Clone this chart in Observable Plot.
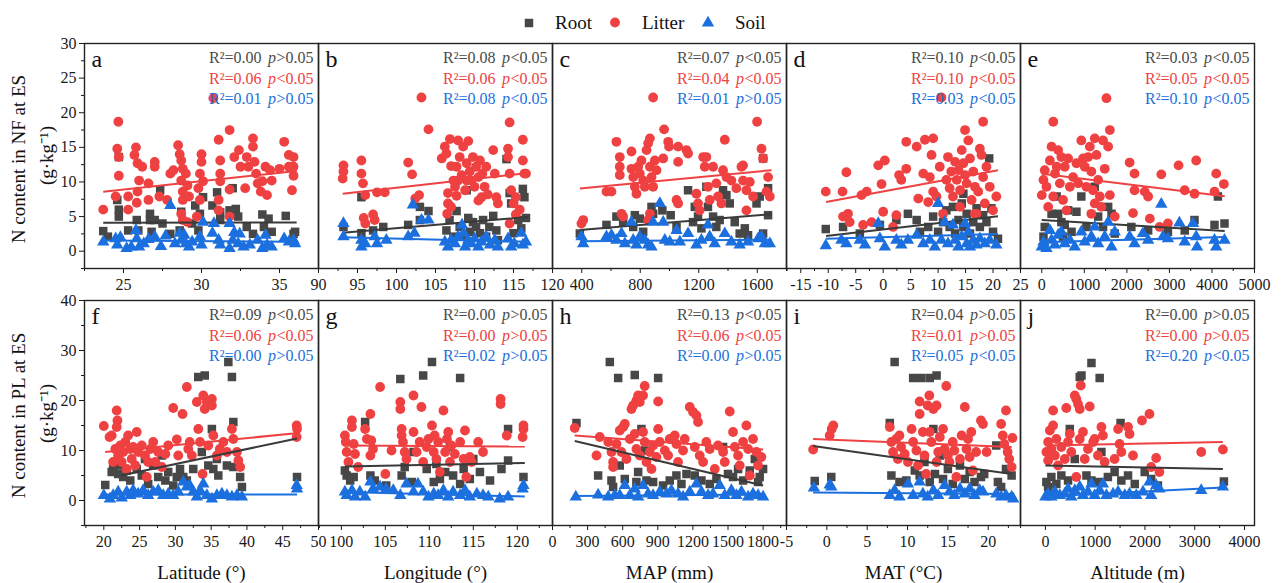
<!DOCTYPE html>
<html><head><meta charset="utf-8">
<script src="https://cdn.jsdelivr.net/npm/d3@7"></script>
<script src="https://cdn.jsdelivr.net/npm/@observablehq/plot@0.6"></script>
<style>
body{margin:0;background:#fff;}
#wrap{position:relative;width:1282px;height:583px;overflow:hidden;font-family:"Liberation Serif","Times New Roman",serif;background:#fff;}
#wrap svg, #wrap svg text{font-family:"Liberation Serif","Times New Roman",serif !important;}
.panel{position:absolute;}
.legtxt{position:absolute;font-size:19px;line-height:19px;color:#111;white-space:nowrap;}
.legsym{position:absolute;overflow:visible;}
</style></head><body><div id="wrap"></div>
<script>
// ---------- series names & colours ----------
const seriesNames = ["Root", "Litter", "Soil"];
const seriesColors = ["#474747", "#EF4141", "#1B6FDE"];

// ---------- panel labels & axes ----------
const panelLetters = ["a","b","c","d","e","f","g","h","i","j"];
const xDomains = [[22.5,37.5],[90,120],[200,1800],[-17.6,25],[-500,5000],[17.3,50],[97.4,124],[0,2000],[-5,24],[-500,4200]];
const xTickLabels = [[25,30,35],[90,95,100,105,110,115,120],[400,800,1200,1600],[-15,-10,-5,0,5,10,15,20,25],[0,1000,2000,3000,4000,5000],[20,25,30,35,40,45,50],[100,105,110,115,120],[0,300,600,900,1200,1500,1800],[-5,0,5,10,15,20],[0,1000,2000,3000,4000]];
const xMinorStep = [2.5,2.5,200,2.5,500,2.5,2.5,150,2.5,500];
const xTitles = ["","","","","","Latitude (°)","Longitude (°)","MAP (mm)","MAT (°C)","Altitude (m)"];
const yDomains = [[-2.5,30],[-5,40]];
const yTickLabels = [[0,5,10,15,20,25,30],[0,10,20,30,40]];
const yMinorStep = [2.5,5];
const yTitles = ["N content in NF at ES","N content in PL at ES"];
const yUnit = "(g·kg⁻¹)";

// ---------- statistics text ----------
const r2Root   = ["0.00","0.08","0.07","0.10","0.03","0.09","0.00","0.13","0.04","0.00"];
const pRoot    = [">0.05","<0.05","<0.05","<0.05","<0.05","<0.05",">0.05","<0.05",">0.05",">0.05"];
const r2Litter = ["0.06","0.06","0.04","0.10","0.05","0.06","0.00","0.06","0.01","0.00"];
const pLitter  = ["<0.05","<0.05","<0.05","<0.05","<0.05","<0.05",">0.05","<0.05",">0.05",">0.05"];
const r2Soil   = ["0.01","0.08","0.01","0.03","0.10","0.00","0.02","0.00","0.05","0.20"];
const pSoil    = [">0.05","<0.05",">0.05","<0.05","<0.05",">0.05",">0.05",">0.05","<0.05","<0.05"];

// ---------- fitted lines [x0, y0, x1, y1] ----------
const fitRoot   = [[23.7,4.1,36.1,4.15],[93.1,2.65,116.9,4.95],[387,3.05,1698,5.35],[-10.4,2.2,20.9,5.05],[0,4.5,4300,2.9],[22.4,5.0,47.0,12.4],[100.4,6.8,120.85,7.5],[190,11.9,1800,3.0],[-1.7,10.9,22.9,5.3],[0,7.0,3565,6.3]];
const fitLitter = [[23.7,8.6,36.1,11.6],[93.1,8.3,116.9,11.3],[387,9.05,1698,11.7],[-10.4,7.1,20.9,11.7],[0,11.2,4300,7.95],[20.2,9.7,47.2,13.5],[100.4,11.0,120.85,10.8],[190,13.0,1800,10.2],[-1.7,12.3,22.9,10.7],[0,11.0,3565,11.7]];
const fitSoil   = [[23.7,1.55,36.1,1.35],[93.1,2.0,116.9,1.35],[387,1.45,1698,1.65],[-10.4,1.8,20.9,2.5],[0,1.3,4300,2.05],[20.0,1.2,47.0,1.2],[100.4,1.7,120.85,0.8],[190,0.9,1800,1.2],[-1.7,1.6,22.9,1.3],[0,0.8,3565,2.6]];

// ---------- points [x, N] ----------
// a: NF vs latitude
const aRoot = [[23.7,2.9],[24.0,2.1],[24.6,7.4],[24.7,6.0],[24.7,5.0],[24.7,13.6],[25.3,3.0],[25.85,4.5],[25.95,3.0],[26.7,5.4],[26.7,4.5],[27.0,4.5],[26.8,2.8],[27.35,8.8],[27.5,4.0],[28.0,2.5],[28.6,3.0],[28.7,5.7],[29.4,4.0],[29.6,6.6],[29.9,5.4],[29.8,3.0],[30.1,7.8],[30.7,6.6],[31.0,8.5],[31.2,4.5],[31.2,5.6],[31.8,5.9],[32.0,9.1],[32.2,6.1],[32.35,5.0],[32.9,3.5],[33.3,2.5],[33.9,5.3],[34.0,3.5],[34.3,4.7],[34.5,2.8],[35.4,5.1],[35.9,2.5],[36.0,2.8]];
const aLitter = [[23.7,6.0],[24.67,18.7],[24.6,14.8],[24.7,13.6],[24.7,10.9],[24.5,7.9],[25.3,7.9],[25.3,6.0],[25.8,15.0],[25.7,13.9],[25.9,12.7],[26.0,10.2],[25.9,8.6],[25.85,7.0],[26.2,12.2],[26.6,9.8],[26.6,7.4],[27.0,12.9],[27.0,12.2],[27.3,7.9],[27.8,7.4],[28.0,11.2],[28.2,11.7],[28.5,15.3],[28.6,14.0],[28.7,13.1],[28.8,11.9],[28.7,10.2],[28.8,8.6],[28.8,7.4],[28.7,5.4],[28.8,4.5],[29.0,11.2],[29.1,9.5],[29.2,7.9],[29.1,4.2],[29.8,9.1],[29.9,11.2],[30.0,12.9],[30.0,14.0],[29.9,7.4],[29.7,5.0],[30.1,10.1],[30.76,22.1],[31.1,16.1],[31.2,13.1],[31.2,11.2],[31.1,7.4],[31.1,5.9],[31.2,10.1],[31.8,17.5],[31.8,8.9],[31.8,5.0],[32.1,13.6],[32.4,14.6],[32.5,12.2],[32.9,13.6],[33.0,12.2],[33.3,16.3],[33.3,15.1],[33.4,12.9],[33.5,11.2],[33.6,9.8],[33.8,8.6],[33.9,10.1],[34.1,12.2],[34.2,8.1],[34.4,11.7],[34.5,10.2],[35.3,15.8],[35.6,13.9],[35.6,12.2],[35.9,13.6],[35.9,12.2],[35.9,10.9],[35.8,8.8],[35.0,11.9],[32.8,9.1]];
const aSoil = [[23.7,1.35],[24.5,1.8],[24.6,0.9],[24.8,2.0],[25.2,0.4],[25.5,0.6],[25.8,3.0],[25.85,1.8],[26.0,0.6],[26.3,1.1],[26.6,1.7],[27.0,2.1],[27.4,0.7],[27.7,2.2],[28.0,6.6],[28.3,1.1],[28.6,2.6],[28.7,1.6],[28.9,2.3],[29.0,1.1],[29.2,0.6],[29.4,1.35],[29.9,2.1],[30.0,0.9],[30.1,4.2],[30.7,2.6],[30.8,4.0],[31.1,1.6],[31.2,0.9],[31.8,4.0],[31.8,0.4],[32.0,1.6],[32.1,2.7],[32.35,1.1],[32.45,2.5],[32.7,0.6],[33.1,0.9],[33.6,1.6],[33.9,0.4],[34.1,2.3],[34.2,0.9],[34.5,0.6],[35.3,1.8],[35.6,1.35],[35.9,1.6],[36.0,1.1]];
// b: NF vs longitude
const bRoot = [[93.2,3.5],[95.5,7.8],[95.5,2.6],[97.0,3.0],[98.3,3.5],[101.5,3.8],[103.0,6.4],[104.1,5.8],[103.0,4.5],[106.4,3.0],[106.8,4.5],[107.3,2.1],[107.7,5.8],[108.1,3.5],[108.6,2.1],[109.0,8.8],[109.2,4.8],[109.4,2.8],[109.8,4.2],[110.2,3.5],[110.7,2.6],[111.1,4.5],[111.5,2.1],[111.9,3.5],[112.4,5.1],[112.8,3.0],[113.0,1.6],[114.1,13.3],[114.5,8.4],[114.7,6.9],[115.0,2.6],[115.6,4.5],[116.2,9.0],[116.4,7.8],[116.6,4.8],[116.0,3.3]];
const bLitter = [[93.2,12.4],[93.2,11.5],[93.1,10.5],[95.5,13.1],[95.5,11.2],[95.7,9.8],[96.0,8.1],[95.8,4.8],[96.0,4.0],[97.0,5.3],[97.2,4.5],[97.5,8.5],[98.5,8.5],[101.5,12.8],[102.0,11.1],[102.9,8.1],[102.4,7.6],[103.2,22.2],[104.1,17.6],[105.8,13.4],[106.2,15.1],[106.4,14.1],[106.85,16.2],[107.0,12.3],[106.6,8.4],[106.6,6.9],[106.5,5.4],[107.0,6.4],[107.3,10.2],[107.5,9.3],[107.7,12.2],[107.9,16.0],[108.1,13.6],[108.35,11.0],[108.55,15.1],[108.8,8.8],[109.0,12.7],[109.2,15.9],[109.4,11.5],[109.6,10.2],[109.8,13.6],[110.0,9.3],[110.2,12.2],[110.5,10.7],[110.7,13.1],[110.9,7.8],[111.0,11.2],[111.3,9.3],[111.5,12.2],[112.4,14.6],[112.6,11.2],[112.8,7.8],[113.0,6.9],[111.7,8.2],[110.5,7.3],[109.0,10.2],[107.7,8.0],[107.9,10.2],[114.3,14.8],[114.3,13.6],[114.5,18.6],[114.5,11.2],[114.7,8.8],[115.0,6.9],[114.5,4.0],[115.3,7.8],[116.2,16.1],[116.2,13.1],[116.4,11.2],[116.6,11.2],[115.8,6.0],[115.3,5.3]];
const bSoil = [[93.2,4.0],[93.2,2.1],[95.5,1.6],[95.5,0.6],[96.0,1.1],[97.2,2.1],[97.5,1.1],[98.7,1.6],[101.5,2.1],[102.1,6.7],[102.3,2.6],[103.2,4.5],[104.1,4.5],[106.2,1.35],[106.6,0.6],[107.0,1.6],[107.5,1.1],[107.9,2.1],[108.4,3.8],[108.6,2.6],[108.8,0.6],[109.2,1.6],[109.6,1.1],[110.0,1.8],[110.5,0.6],[110.9,1.35],[111.5,2.1],[112.0,0.9],[112.6,1.6],[113.0,0.6],[114.3,1.8],[114.7,0.6],[115.1,1.1],[116.0,2.6],[116.2,0.9],[116.6,1.35]];
// c: NF vs MAP
const cRoot = [[387,2.55],[569,3.8],[637,5.0],[683,4.2],[752,3.5],[763,5.2],[797,4.7],[820,2.8],[877,6.4],[888,5.4],[951,5.9],[1008,5.2],[1048,3.5],[1127,8.8],[1161,4.2],[1173,6.4],[1195,5.0],[1218,3.3],[1252,9.3],[1263,6.4],[1298,5.0],[1320,3.5],[1343,4.5],[1366,8.8],[1389,8.1],[1412,6.9],[1446,4.2],[1480,2.55],[1515,3.3],[1537,2.3],[1595,6.9],[1617,7.9],[1640,13.4],[1674,9.1],[1674,5.2],[1640,2.55]];
const cLitter = [[398,4.0],[410,4.5],[569,8.6],[603,8.6],[637,15.8],[660,13.6],[660,12.2],[660,11.0],[672,5.4],[683,5.0],[740,14.4],[740,11.9],[752,10.7],[763,9.3],[774,8.3],[786,12.2],[797,11.2],[808,13.1],[820,10.2],[831,9.3],[843,14.6],[854,15.6],[866,16.3],[866,12.2],[877,10.7],[888,22.2],[888,9.3],[900,13.1],[911,11.7],[866,5.4],[854,4.5],[957,13.4],[963,17.6],[991,15.8],[997,15.1],[1059,15.1],[1059,12.9],[1048,7.4],[1059,6.9],[1116,14.6],[1127,14.1],[1184,8.3],[1195,6.9],[1206,5.9],[1230,13.6],[1241,12.2],[1252,13.6],[1263,9.3],[1275,7.4],[1298,12.2],[1320,9.8],[1332,7.9],[1355,6.9],[1366,11.7],[1378,16.1],[1389,10.7],[1423,10.2],[1457,9.1],[1492,12.2],[1503,12.4],[1503,10.2],[1526,8.8],[1526,5.9],[1549,10.0],[1572,7.9],[1599,18.7],[1629,14.8],[1640,13.4],[1674,10.7],[1663,8.6],[1686,7.9]];
const cSoil = [[398,2.1],[410,1.1],[569,2.1],[603,2.3],[637,1.6],[672,2.55],[695,1.1],[740,4.2],[752,1.6],[774,0.9],[797,2.1],[831,1.6],[854,0.9],[877,0.6],[888,4.2],[934,6.9],[957,4.2],[968,1.6],[1002,1.35],[1048,3.0],[1071,1.35],[1127,2.55],[1184,0.9],[1218,1.6],[1263,3.8],[1275,2.1],[1309,1.1],[1378,2.55],[1423,1.35],[1480,0.9],[1537,1.35],[1606,1.8],[1629,2.1],[1652,1.1],[1686,1.1]];
// d: NF vs MAT
const dRoot = [[-10.45,3.2],[-7.3,3.5],[-4.25,2.55],[-0.6,3.8],[2.4,4.5],[4.5,5.4],[6.1,4.5],[6.7,2.8],[8.2,3.5],[9.1,5.0],[10.0,2.8],[10.9,4.2],[11.5,5.9],[12.1,3.5],[12.7,6.4],[13.1,2.55],[13.7,4.5],[14.3,6.9],[14.6,3.5],[15.2,5.4],[15.8,2.55],[16.4,4.2],[17.0,6.2],[17.6,3.5],[18.2,5.2],[18.8,4.2],[19.3,13.4],[19.7,6.2],[20.0,2.8],[20.9,1.8],[14.6,8.3]];
const dLitter = [[-10.45,8.6],[-7.4,8.6],[-6.7,11.4],[-7.3,5.0],[-6.4,5.4],[-6.1,4.2],[-3.95,8.1],[-3.0,8.6],[-3.65,3.8],[-2.1,4.2],[-0.9,12.4],[0.3,13.1],[-0.3,9.7],[0.0,5.7],[1.8,3.5],[2.4,5.2],[2.9,11.0],[3.3,10.3],[4.2,11.9],[4.2,15.8],[6.1,15.1],[6.4,7.6],[7.3,11.2],[7.6,16.1],[8.2,7.1],[9.1,16.3],[8.8,13.9],[8.5,10.7],[9.1,8.6],[9.7,7.9],[10.3,12.2],[10.9,5.4],[10.6,22.2],[11.5,10.3],[11.8,13.6],[12.1,9.1],[12.4,11.5],[12.7,7.9],[13.1,12.9],[13.4,10.3],[13.7,11.7],[14.0,8.8],[14.3,14.6],[14.6,12.7],[14.9,17.5],[14.9,11.0],[15.2,9.8],[15.5,16.0],[15.8,13.4],[16.1,7.4],[16.4,11.5],[16.7,9.3],[17.0,5.4],[17.3,8.6],[17.6,14.8],[17.9,13.9],[18.2,18.7],[18.2,10.7],[18.5,6.9],[18.8,12.2],[19.4,9.3],[20.0,5.9],[20.6,7.9],[16.7,5.4],[14.0,6.4]];
const dSoil = [[-10.45,0.8],[-7.6,1.6],[-6.7,1.1],[-4.25,1.6],[-3.3,0.9],[-0.9,4.0],[-0.6,1.8],[0.3,0.6],[2.4,1.6],[3.3,0.9],[4.5,1.6],[6.1,2.3],[7.3,1.1],[8.5,1.6],[9.4,0.6],[10.0,6.9],[10.6,1.6],[11.2,4.2],[11.8,1.1],[12.7,3.8],[13.1,1.6],[13.7,0.6],[14.3,2.1],[14.9,4.0],[15.2,1.1],[15.5,2.8],[15.8,0.6],[16.4,1.6],[17.0,0.9],[17.6,1.8],[18.5,1.1],[19.4,1.6],[20.6,0.9]];
// e: NF vs altitude
const eRoot = [[40,2.1],[230,5.4],[350,7.9],[385,5.4],[460,4.2],[540,3.8],[620,5.9],[700,2.8],[815,5.7],[930,7.9],[1050,3.5],[1245,9.3],[1325,5.0],[1440,3.5],[1560,6.4],[1640,5.4],[1715,2.55],[2105,3.5],[2500,3.0],[2965,2.8],[3360,3.0],[3590,4.5],[4060,3.8],[4140,7.9],[4295,4.0],[70,3.5],[500,2.1]];
const eLitter = [[0,8.1],[40,10.3],[70,11.7],[110,9.3],[150,6.4],[190,13.1],[230,15.1],[270,18.7],[270,7.9],[310,11.2],[350,12.2],[385,14.6],[425,9.8],[460,13.6],[500,7.4],[540,12.2],[580,5.9],[620,13.4],[660,9.3],[735,10.7],[815,12.7],[855,9.8],[930,16.0],[970,13.4],[1010,12.2],[1050,9.3],[1090,13.6],[1130,15.1],[1165,11.5],[1205,8.8],[1245,16.3],[1245,6.9],[1285,13.9],[1165,5.4],[1325,10.3],[1365,7.9],[1400,6.4],[1440,16.0],[1480,11.9],[1520,22.1],[1560,15.1],[1600,17.5],[1600,8.1],[1715,5.0],[2065,12.8],[2180,11.2],[2180,8.8],[2145,5.5],[2420,8.6],[2500,7.9],[2540,4.7],[2810,11.1],[2770,3.5],[2965,4.0],[3215,12.4],[3360,8.8],[3590,8.3],[3630,13.1],[4060,8.6],[4100,11.2],[4280,9.7]];
const eSoil = [[0,0.6],[40,1.35],[110,0.4],[190,3.0],[230,1.6],[310,0.9],[385,2.3],[460,2.8],[540,1.1],[660,1.6],[775,0.6],[930,2.8],[1010,1.35],[1165,2.1],[1245,3.5],[1325,1.1],[1480,2.1],[1560,4.2],[1640,0.6],[1715,2.8],[2065,2.1],[2180,1.1],[2375,2.55],[2500,1.6],[2810,6.8],[2850,2.1],[2965,1.8],[3235,4.1],[3360,1.35],[3555,4.0],[3630,2.1],[3650,0.6],[4060,1.6],[4100,0.6],[4295,1.6]];
// f: PL vs latitude
const fRoot = [[20.2,3.1],[21.1,5.7],[21.3,6.3],[22.0,5.3],[22.3,7.0],[22.7,4.7],[23.2,6.0],[23.7,4.0],[24.6,6.3],[25.3,5.0],[25.75,8.3],[26.2,3.3],[26.9,7.0],[27.6,4.7],[28.1,9.0],[28.6,4.0],[29.0,5.7],[29.7,3.0],[30.2,4.7],[30.65,6.3],[31.1,4.7],[31.6,4.0],[32.5,6.3],[33.2,24.7],[33.7,9.7],[34.1,25.0],[34.6,7.0],[35.1,14.3],[35.3,6.3],[35.8,8.3],[36.0,5.0],[37.2,7.0],[37.4,27.7],[37.9,24.7],[38.1,15.7],[38.1,6.7],[39.05,4.7],[39.3,2.7],[47.0,4.7]];
const fLitter = [[20.0,14.9],[20.8,12.7],[21.1,13.0],[21.8,18.0],[21.9,16.0],[21.8,14.7],[21.6,10.3],[21.3,7.7],[22.0,9.0],[22.3,11.0],[22.5,7.7],[22.7,9.7],[23.0,11.7],[23.2,6.3],[23.4,13.0],[23.7,10.3],[23.9,8.3],[24.1,10.7],[24.6,13.7],[24.4,7.0],[24.8,9.7],[25.3,11.0],[25.75,9.0],[26.0,4.7],[26.2,7.7],[26.5,10.3],[26.9,11.7],[27.2,7.7],[27.6,9.7],[28.1,6.7],[28.6,9.3],[29.0,11.0],[29.7,18.5],[30.2,12.2],[30.4,9.0],[31.0,17.3],[31.6,22.7],[31.8,10.3],[32.0,11.7],[32.3,9.0],[33.0,19.7],[33.2,14.3],[33.45,11.7],[33.8,5.3],[33.9,21.0],[34.1,18.3],[34.4,19.7],[34.6,11.0],[35.1,20.3],[35.1,19.0],[35.3,13.0],[35.8,9.0],[36.2,10.3],[36.7,11.7],[37.2,9.7],[37.9,14.3],[38.1,12.3],[38.6,9.7],[38.8,8.0],[39.05,6.7],[46.95,15.0],[47.0,14.3],[46.95,12.7]];
const fSoil = [[20.0,1.0],[20.85,0.3],[21.3,1.0],[22.0,1.7],[22.5,0.5],[23.2,1.7],[23.7,1.0],[24.1,2.0],[24.8,1.3],[25.5,2.0],[26.2,1.0],[26.9,1.7],[27.6,2.0],[28.3,1.0],[29.0,1.3],[29.7,1.0],[30.4,1.7],[31.1,3.7],[31.6,2.7],[32.0,3.0],[32.5,1.7],[33.0,0.7],[33.45,2.0],[33.9,3.3],[34.4,1.0],[35.1,0.3],[35.8,1.0],[36.5,1.3],[37.2,1.0],[37.9,0.7],[38.6,1.0],[39.3,0.7],[46.95,3.0],[47.0,2.3]];
// g: PL vs longitude
const gRoot = [[100.4,6.0],[100.6,5.0],[101.0,4.0],[101.4,4.7],[102.7,15.7],[103.3,5.0],[103.8,4.0],[105.1,3.0],[106.7,24.3],[106.85,5.0],[107.2,6.7],[108.0,3.7],[108.2,9.7],[109.3,25.0],[109.7,6.3],[110.3,27.7],[110.5,3.7],[110.8,7.3],[111.2,4.3],[111.8,5.7],[112.35,10.7],[112.7,5.0],[113.5,24.5],[113.5,3.3],[113.9,6.3],[114.6,4.3],[115.0,8.3],[115.75,5.7],[116.9,4.0],[118.2,6.3],[118.95,14.3],[118.95,8.0],[120.7,4.7]];
const gLitter = [[100.4,13.0],[100.5,11.7],[100.6,9.7],[100.8,7.7],[101.2,16.0],[101.2,14.7],[101.4,11.3],[101.55,9.3],[101.9,6.7],[102.7,14.3],[102.9,12.3],[103.3,17.3],[103.4,12.0],[103.3,9.0],[103.6,10.3],[104.4,22.7],[105.0,5.3],[105.7,10.0],[106.7,19.7],[106.7,18.3],[106.85,14.3],[106.85,13.0],[107.0,11.7],[107.2,9.7],[107.4,8.3],[108.2,13.7],[108.2,21.0],[108.55,9.7],[108.9,11.7],[109.1,18.7],[109.3,7.7],[109.7,10.7],[109.9,12.3],[110.3,15.0],[110.5,9.7],[110.6,13.0],[110.8,8.3],[111.0,11.7],[111.2,5.7],[111.6,18.0],[111.8,9.7],[112.0,12.3],[112.15,13.7],[112.35,7.7],[112.5,11.0],[112.9,9.3],[113.5,11.7],[113.9,8.3],[114.05,14.0],[114.2,4.7],[114.6,8.7],[114.8,7.7],[115.55,11.7],[116.1,9.7],[118.1,20.3],[118.1,19.3],[118.8,13.0],[120.7,15.0],[120.7,14.3],[120.6,12.7]];
const gSoil = [[100.4,1.7],[100.6,1.0],[101.2,2.0],[101.55,0.7],[102.1,1.7],[102.7,0.7],[103.3,3.7],[103.6,2.3],[104.4,2.7],[105.1,2.3],[105.9,2.0],[106.7,1.0],[107.4,3.3],[108.2,1.7],[108.7,3.3],[109.3,1.7],[109.9,0.7],[110.5,1.3],[111.0,1.0],[111.6,2.0],[112.15,0.7],[112.7,1.7],[113.5,1.0],[114.05,2.0],[114.6,0.7],[115.4,1.3],[116.1,1.0],[116.7,0.7],[118.0,0.3],[118.95,0.7],[120.7,3.0],[120.6,2.3]];
// h: PL vs MAP
const hRoot = [[205,15.5],[390,5.0],[490,27.7],[504,4.0],[518,2.7],[561,24.5],[575,7.0],[618,4.3],[703,25.1],[717,3.7],[732,5.7],[760,14.3],[788,10.0],[803,4.0],[860,3.7],[903,24.5],[945,3.0],[1002,4.0],[1059,5.0],[1102,3.3],[1145,5.3],[1216,5.0],[1273,4.0],[1344,3.3],[1401,4.3],[1458,10.7],[1500,5.3],[1543,4.7],[1586,6.3],[1629,4.0],[1686,6.0],[1729,8.3],[1771,4.7],[1800,6.3],[1757,3.7]];
const hLitter = [[190,14.5],[376,9.0],[404,12.7],[476,11.7],[504,9.7],[518,7.7],[518,6.7],[547,11.3],[575,14.0],[589,9.7],[604,14.7],[618,15.3],[632,8.3],[661,12.3],[675,18.3],[689,19.0],[717,20.0],[732,21.0],[746,19.7],[788,22.9],[774,21.0],[703,13.3],[717,10.3],[746,9.0],[774,13.7],[788,11.7],[803,7.7],[831,9.7],[846,6.3],[860,11.0],[888,8.7],[903,14.3],[903,19.8],[917,11.7],[960,10.0],[988,9.0],[1002,12.3],[1045,13.0],[1059,11.3],[1073,7.7],[1116,10.0],[1130,12.3],[1173,18.7],[1201,17.7],[1230,17.0],[1244,15.7],[1216,10.7],[1258,9.0],[1287,7.7],[1315,11.7],[1344,10.3],[1387,6.3],[1415,11.0],[1458,9.7],[1472,7.7],[1515,17.8],[1543,13.7],[1558,10.7],[1586,9.0],[1600,7.0],[1629,11.7],[1657,15.0],[1672,10.3],[1686,5.0],[1714,12.3],[1743,9.7],[1757,7.0],[1785,8.7]];
const hSoil = [[199,0.7],[390,1.1],[476,0.7],[532,1.0],[575,1.0],[618,3.0],[661,1.0],[703,2.3],[732,0.7],[774,3.0],[817,1.3],[860,1.0],[917,1.7],[974,1.3],[1016,2.0],[1073,1.3],[1116,0.7],[1173,1.7],[1230,3.3],[1273,1.7],[1330,1.0],[1372,1.3],[1429,3.0],[1472,1.0],[1529,2.0],[1572,1.0],[1615,1.7],[1672,0.7],[1714,1.3],[1757,1.0],[1800,0.7]];
// i: PL vs MAT
const iRoot = [[-1.5,3.9],[0.55,4.7],[7.8,15.5],[8.0,5.0],[8.4,27.7],[9.0,3.7],[9.85,4.0],[10.7,24.5],[11.7,24.5],[12.75,24.5],[13.6,25.0],[10.9,6.0],[11.5,5.0],[12.1,7.7],[12.75,3.7],[13.2,14.3],[13.4,5.3],[14.0,9.0],[14.4,4.3],[15.0,6.3],[15.6,3.3],[16.5,7.0],[17.1,4.3],[17.7,5.7],[18.3,3.7],[19.1,4.7],[19.5,5.3],[21.0,11.0],[21.2,3.7],[21.6,2.7],[22.2,6.3],[22.9,5.0]];
const iLitter = [[-1.7,10.2],[0.35,13.0],[0.6,14.3],[0.8,15.0],[7.8,14.7],[8.0,11.7],[8.2,9.7],[8.6,12.3],[8.8,8.3],[9.0,13.0],[9.2,10.7],[9.65,9.3],[10.05,7.7],[10.5,14.3],[10.7,11.7],[11.1,10.0],[11.3,7.0],[11.5,17.3],[11.5,19.8],[11.9,13.7],[12.1,9.0],[12.3,5.3],[12.5,19.0],[12.7,21.0],[13.2,18.3],[12.95,11.7],[13.6,19.0],[13.6,7.7],[12.75,13.7],[13.8,9.7],[14.0,12.7],[14.4,14.3],[14.6,10.3],[14.8,22.9],[15.0,9.0],[15.2,7.7],[15.6,11.7],[15.8,10.0],[16.05,4.7],[16.5,8.3],[16.7,13.0],[17.1,18.7],[17.3,10.3],[17.5,12.3],[17.7,8.7],[17.9,13.7],[18.1,6.0],[18.5,9.7],[19.1,16.0],[19.35,15.3],[19.8,9.7],[21.6,15.3],[21.8,13.0],[22.0,11.3],[22.2,18.0],[22.4,9.7],[22.6,8.3],[22.9,6.7],[23.0,12.5]];
const iSoil = [[-1.6,2.5],[0.35,3.1],[0.55,2.7],[7.8,1.0],[8.4,2.0],[9.0,0.7],[10.05,3.3],[10.7,1.0],[11.5,3.7],[11.9,1.3],[12.5,0.7],[13.2,2.0],[13.8,1.0],[14.6,3.0],[15.2,1.7],[15.8,1.0],[16.5,2.3],[17.1,1.3],[17.7,2.3],[18.3,1.0],[18.95,2.0],[19.35,1.7],[21.0,1.3],[21.6,0.7],[22.2,1.0],[22.9,0.7],[23.1,0.3]];
// j: PL vs altitude
const jRoot = [[20,3.7],[55,2.7],[120,4.7],[220,3.3],[320,5.0],[455,4.0],[490,14.3],[590,8.3],[690,24.7],[725,25.0],[925,27.5],[825,5.0],[925,4.0],[1090,24.5],[1055,3.7],[1125,9.7],[1255,4.7],[1390,5.7],[1510,15.5],[1525,4.0],[1660,5.0],[1795,3.3],[1995,5.7],[2125,4.3],[2260,3.0],[3585,3.8]];
const jLitter = [[20,9.7],[55,11.7],[55,8.0],[90,14.0],[120,10.3],[155,18.0],[155,15.0],[190,9.0],[220,12.3],[255,7.0],[320,10.7],[390,8.3],[420,18.5],[455,11.7],[490,13.3],[520,9.7],[590,21.0],[620,20.3],[620,4.7],[655,19.3],[690,18.3],[710,23.0],[690,12.3],[755,13.7],[790,8.3],[890,18.8],[855,10.3],[960,11.7],[990,12.3],[1055,9.0],[1125,14.7],[1155,13.0],[1190,7.7],[1390,8.3],[1460,14.3],[1490,11.3],[1525,9.7],[1660,14.7],[1690,13.3],[1760,9.0],[1940,16.0],[2090,17.3],[2125,6.7],[2225,8.5],[2290,5.7],[3130,9.7],[3565,10.2]];
const jSoil = [[0,0.7],[55,1.3],[120,0.7],[190,1.7],[290,1.0],[390,1.3],[455,2.3],[520,0.7],[590,2.0],[690,2.7],[755,1.0],[855,1.7],[925,3.3],[990,1.0],[1090,2.0],[1155,3.3],[1225,1.0],[1360,1.3],[1460,1.7],[1595,1.0],[1690,1.3],[1825,1.0],[1960,1.7],[2090,3.7],[2125,1.0],[2225,3.0],[2290,2.3],[3130,2.0],[3565,2.7]];

const rootPts = [aRoot,bRoot,cRoot,dRoot,eRoot,fRoot,gRoot,hRoot,iRoot,jRoot];
const litterPts = [aLitter,bLitter,cLitter,dLitter,eLitter,fLitter,gLitter,hLitter,iLitter,jLitter];
const soilPts = [aSoil,bSoil,cSoil,dSoil,eSoil,fSoil,gSoil,hSoil,iSoil,jSoil];

// ---------- layout ----------
const colLeft = [84, 318, 552, 786, 1020];
const rowTop = [43, 300];
const PW = 234, PH = 225;
const FONT = '"Liberation Serif","Times New Roman",serif';
const R_SQ = 4.8, R_CI = 4.9, R_TR = 4.6;

function minorTicks(dom, step, major) {
  const out = [];
  const start = Math.ceil(dom[0] / step - 1e-9) * step;
  for (let v = start; v <= dom[1] + 1e-9; v += step) {
    const rv = Math.round(v * 1000) / 1000;
    if (!major.some(m => Math.abs(m - rv) < 1e-6)) out.push(rv);
  }
  return out;
}

const wrap = document.getElementById("wrap");

function makePanel(i) {
  const r = Math.floor(i / 5), c = i % 5;
  const mL = c === 0 ? 90 : 12, mR = 12, mT = 12, mB = 62;
  const xd = xDomains[i], yd = yDomains[r];
  const xMin = minorTicks(xd, xMinorStep[i], xTickLabels[i]);
  const yMin = minorTicks(yd, yMinorStep[r], yTickLabels[r]);
  const fits = [fitRoot[i], fitLitter[i], fitSoil[i]];
  const r2 = [r2Root[i], r2Litter[i], r2Soil[i]];
  const pv = [pRoot[i], pLitter[i], pSoil[i]];
  const X = d => d[0], Y = d => d[1];
  const marks = [
    Plot.axisX({ticks: xMin, tickSize: 3, tickFormat: () => "", label: null}),
    Plot.axisX({ticks: xTickLabels[i], tickSize: 5, tickPadding: 5, tickFormat: d => String(d), label: null}),
    Plot.dot(rootPts[i], {x: X, y: Y, symbol: "square", r: R_SQ, fill: seriesColors[0]}),
    Plot.dot(litterPts[i], {x: X, y: Y, symbol: "circle", r: R_CI, fill: seriesColors[1]}),
    Plot.link([fits[0]], {x1: d => d[0], y1: d => d[1], x2: d => d[2], y2: d => d[3], stroke: "#3a3a3a", strokeWidth: 2}),
    Plot.link([fits[1]], {x1: d => d[0], y1: d => d[1], x2: d => d[2], y2: d => d[3], stroke: seriesColors[1], strokeWidth: 2}),
    Plot.link([fits[2]], {x1: d => d[0], y1: d => d[1], x2: d => d[2], y2: d => d[3], stroke: seriesColors[2], strokeWidth: 2}),
    Plot.dot(soilPts[i], {x: X, y: Y, symbol: "triangle", r: R_TR, fill: seriesColors[2]}),
    Plot.frame({stroke: "#222", strokeWidth: 1.4}),
    Plot.text([panelLetters[i]], {frameAnchor: "top-left", text: d => d, textAnchor: "start", lineAnchor: "middle", dx: 7, dy: 16, fontSize: 24, fill: "#111"})
  ];
  const offs = [14.5, 35, 55];
  for (let k = 0; k < 3; k++) {
    const col = k === 0 ? "#4a4a4a" : seriesColors[k];
    marks.push(Plot.text([`R²=${r2[k]}`], {frameAnchor: "top-right", text: d => d, textAnchor: "end", lineAnchor: "middle", dx: -57, dy: offs[k], fontSize: 16, fill: col}));
    marks.push(Plot.text(["p"], {frameAnchor: "top-right", text: d => d, textAnchor: "end", lineAnchor: "middle", dx: -42.5, dy: offs[k], fontSize: 16, fontStyle: "italic", fill: col}));
    marks.push(Plot.text([pv[k]], {frameAnchor: "top-right", text: d => d, textAnchor: "end", lineAnchor: "middle", dx: -5, dy: offs[k], fontSize: 16, fill: col}));
  }
  if (xTitles[i]) {
    marks.push(Plot.text([xTitles[i]], {frameAnchor: "bottom", text: d => d, textAnchor: "middle", lineAnchor: "middle", dy: 47, fontSize: 19, fill: "#111"}));
  }
  if (c === 0) {
    marks.push(Plot.axisY({ticks: yMin, tickSize: 3, tickFormat: () => "", label: null}));
    marks.push(Plot.axisY({ticks: yTickLabels[r], tickSize: 5, tickPadding: 3, tickFormat: d => String(d), label: null}));
    marks.push(Plot.text([yTitles[r]], {frameAnchor: "left", text: d => d, rotate: -90, textAnchor: "middle", lineAnchor: "middle", dx: -66, dy: r === 0 ? 3 : 2.5, fontSize: 19, fill: "#111"}));
    marks.push(Plot.text([yUnit], {frameAnchor: "left", text: d => d, rotate: -90, textAnchor: "middle", lineAnchor: "middle", dx: -38, dy: r === 0 ? -0.5 : 0.5, fontSize: 19, fill: "#111"}));
  }
  const svg = Plot.plot({
    width: PW + mL + mR,
    height: PH + mT + mB,
    marginLeft: mL, marginRight: mR, marginTop: mT, marginBottom: mB,
    x: {domain: xd},
    y: c === 0 ? {domain: yd} : {domain: yd, axis: null},
    style: {fontFamily: FONT, fontSize: "16px", color: "#1a1a1a", background: "transparent", overflow: "visible"},
    marks
  });
  svg.classList.add("panel");
  svg.style.left = (colLeft[c] - mL) + "px";
  svg.style.top = (rowTop[r] - mT) + "px";
  svg.style.maxWidth = "none";
  wrap.appendChild(svg);
}
for (let i = 0; i < 10; i++) makePanel(i);

// ---------- legend ----------
const legendSymbolX = [529, 615, 708];
const legendTextX = [555, 642, 735];
const symbolShapes = ["square", "circle", "triangle"];
seriesNames.forEach((name, k) => {
  const ns = "http://www.w3.org/2000/svg";
  const s = document.createElementNS(ns, "svg");
  s.setAttribute("width", 14); s.setAttribute("height", 14);
  s.setAttribute("class", "legsym");
  s.style.left = (legendSymbolX[k] - 7) + "px";
  s.style.top = (23 - 7) + "px";
  let shape;
  if (symbolShapes[k] === "square") {
    shape = document.createElementNS(ns, "rect");
    shape.setAttribute("x", 2.75); shape.setAttribute("y", 2.75); shape.setAttribute("width", 8.5); shape.setAttribute("height", 8.5);
  } else if (symbolShapes[k] === "circle") {
    shape = document.createElementNS(ns, "circle");
    shape.setAttribute("cx", 7); shape.setAttribute("cy", 6.5); shape.setAttribute("r", 4.9);
  } else {
    shape = document.createElementNS(ns, "path");
    shape.setAttribute("d", d3.symbol(d3.symbolTriangle, Math.PI * R_TR * R_TR)());
    shape.setAttribute("transform", "translate(7,7)");
  }
  shape.setAttribute("fill", seriesColors[k]);
  s.appendChild(shape);
  wrap.appendChild(s);
  const t = document.createElement("div");
  t.className = "legtxt";
  t.textContent = name;
  t.style.left = legendTextX[k] + "px";
  t.style.top = "13px";
  wrap.appendChild(t);
});
</script></body></html>
